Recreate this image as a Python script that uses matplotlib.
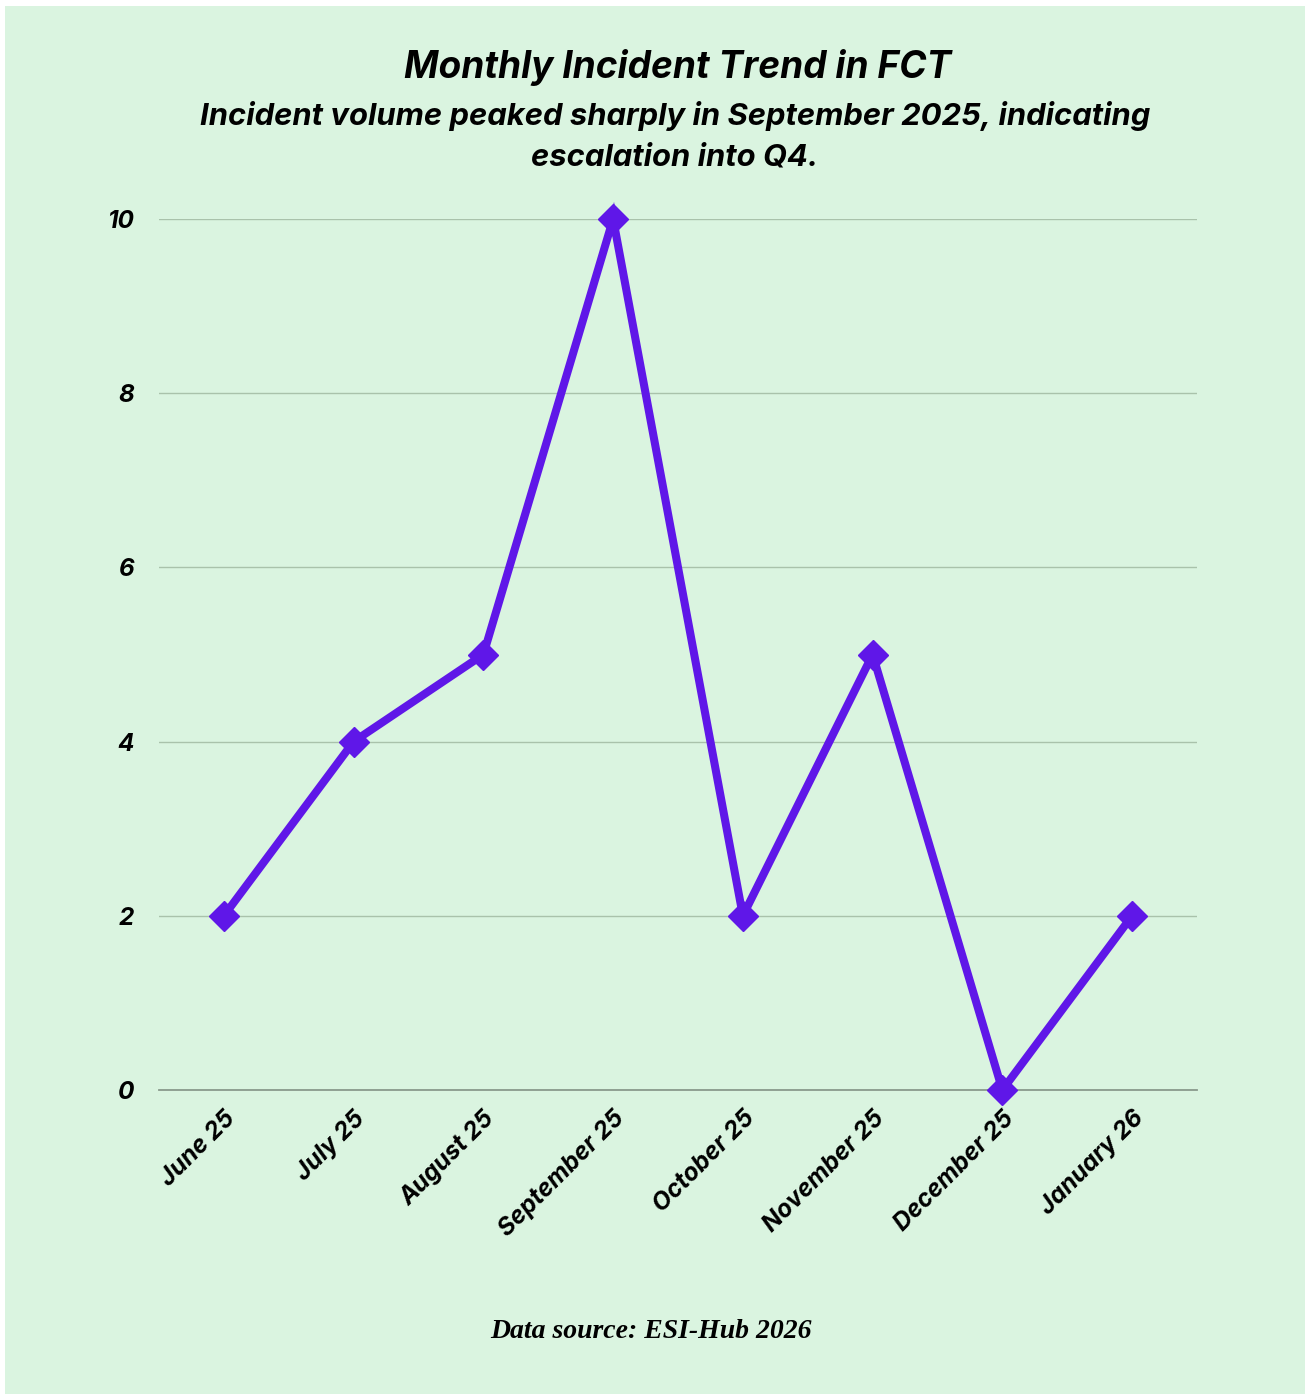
import matplotlib
matplotlib.use("Agg")
import matplotlib.pyplot as plt

months = ["June 25", "July 25", "August 25", "September 25", "October 25",
          "November 25", "December 25", "January 26"]
incidents = [2, 4, 5, 10, 2, 5, 0, 2]
yticks = [0, 2, 4, 6, 8, 10]

BG = "#DAF4E0"
LINE = "#5F17E8"
SANS = ["Inter", "DejaVu Sans"]

fig = plt.figure(figsize=(13.06, 13.94), dpi=100)
fig.patch.set_facecolor("white")
fig.add_artist(plt.Rectangle((5/1306, 0), 1 - 6/1306, 1 - 6/1394,
                             transform=fig.transFigure, facecolor=BG,
                             edgecolor="none", zorder=-10))

ax = fig.add_axes([159/1306, 1 - 1090/1394, (1197-159)/1306, (1090-219)/1394])
ax.set_facecolor("none")
x = list(range(len(months)))
ax.plot(x, incidents, color=LINE, lw=5.8, marker="D", ms=15.5,
        clip_on=False, zorder=5, solid_joinstyle="miter")
ax.set_xlim(-0.5, len(months) - 0.5)
ax.set_ylim(0, 10)
ax.set_yticks(yticks)
ax.set_yticklabels([str(v) for v in yticks], fontfamily=SANS,
                   fontweight="bold", fontstyle="italic", fontsize=17.5)
ax.set_xticks(x)
ax.set_xticklabels(months, rotation=45, ha="right", rotation_mode="anchor",
                   fontfamily=SANS, fontweight="bold", fontstyle="italic",
                   fontsize=17.5)
ax.tick_params(axis="both", length=0)
ax.tick_params(axis="y", pad=18)
ax.tick_params(axis="x", pad=12)
for s in ["top", "right", "left"]:
    ax.spines[s].set_visible(False)
ax.spines["bottom"].set_color("#8a9a8c")
ax.spines["bottom"].set_linewidth(1.3)
ax.grid(axis="y", color="#a9c2ab", lw=1.0)
ax.set_axisbelow(True)

fig.text(678/1306, 1 - 68/1394, "Monthly Incident Trend in FCT",
         ha="center", va="center", fontfamily=SANS, fontweight="bold",
         fontstyle="italic", fontsize=26.7)
fig.text(675/1306, 1 - 136/1394,
         "Incident volume peaked sharply in September 2025, indicating\nescalation into Q4.",
         ha="center", va="center", fontfamily=SANS, fontweight="bold",
         fontstyle="italic", fontsize=22.3, linespacing=1.55)
fig.text(651/1306, 1 - 1332/1394, "Data source: ESI-Hub 2026",
         ha="center", va="center", fontfamily=["Liberation Serif", "DejaVu Serif"],
         fontweight="bold", fontstyle="italic", fontsize=20)

fig.savefig("out.png", dpi=100, facecolor=fig.get_facecolor())
